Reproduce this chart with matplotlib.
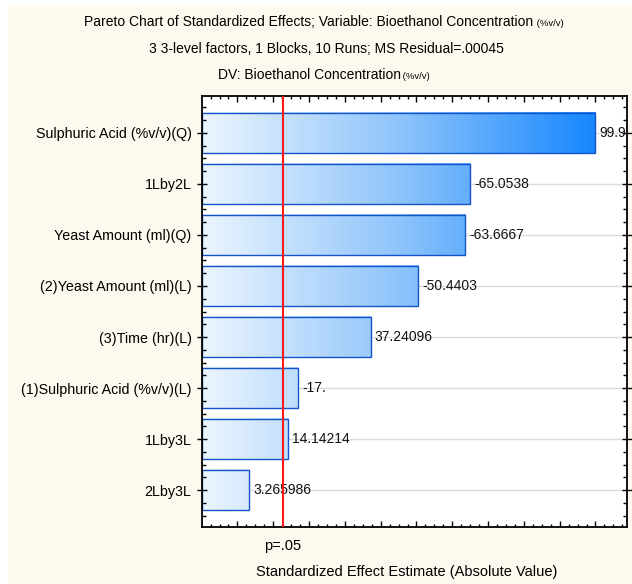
import numpy as np
import matplotlib
matplotlib.use("Agg")
import matplotlib.pyplot as plt
from matplotlib.colors import LinearSegmentedColormap, Normalize
from matplotlib.patches import Rectangle
from matplotlib.ticker import MultipleLocator, NullFormatter, FixedLocator
import matplotlib.transforms as mtransforms

plt.rcParams['font.family'] = ['Liberation Sans', 'DejaVu Sans']

# ---------------- data ----------------
factor_labels = [
    "Sulphuric Acid (%v/v)(Q)",
    "1Lby2L",
    "Yeast Amount (ml)(Q)",
    "(2)Yeast Amount (ml)(L)",
    "(3)Time (hr)(L)",
    "(1)Sulphuric Acid (%v/v)(L)",
    "1Lby3L",
    "2Lby3L",
]
effects = [99.98, -65.0538, -63.6667, -50.4403, 37.24096, -17.0, 14.14214, 3.265986]
effect_text = ["99.98", "-65.0538", "-63.6667", "-50.4403", "37.24096", "-17.", "14.14214", "3.265986"]
p_critical = 12.706
p_label = "p=.05"

title_main = "Pareto Chart of Standardized Effects; Variable: Bioethanol Concentration"
title_unit = " (%v/v)"
subtitle = "3 3-level factors, 1 Blocks, 10 Runs; MS Residual=.00045"
dv_main = "DV: Bioethanol Concentration"
xlabel = "Standardized Effect Estimate (Absolute Value)"

# ---------------- figure ----------------
W, H = 632, 584
fig = plt.figure(figsize=(W / 100, H / 100), dpi=100, facecolor="white")
fig.patches.append(Rectangle((8 / W, 0), 1 - 8 / W, 1 - 5 / H, transform=fig.transFigure,
                             facecolor="#fdf9ee", edgecolor="none", zorder=-10))

ax_l, ax_r, ax_t, ax_b = 202, 627, 96, 527
ax = fig.add_axes([ax_l / W, 1 - ax_b / H, (ax_r - ax_l) / W, (ax_b - ax_t) / H])
ax.set_facecolor("white")

xmin, xmax = -9.9, 108.8
cmap = LinearSegmentedColormap.from_list("blu", ["#ecf5fe", "#8ec4fb", "#1787fe"])
norm = Normalize(vmin=xmin, vmax=100)

ypos = np.arange(len(effects))
bar_h = 0.8
for y, val, txt in zip(ypos, effects, effect_text):
    end = abs(val)
    ax.plot([xmin, xmax], [y, y], color="#dcdcdc", lw=1.0, zorder=0.5)
    grad = np.linspace(xmin, end, 256).reshape(1, -1)
    ax.imshow(grad, extent=[xmin, end, y + bar_h / 2, y - bar_h / 2], cmap=cmap, norm=norm,
              aspect="auto", interpolation="bilinear", zorder=1)
    ax.add_patch(Rectangle((xmin, y - bar_h / 2), end - xmin, bar_h, facecolor="none",
                           edgecolor="#1454c8", lw=1.0, zorder=2))
    ax.text(end + 1.1, y, txt, va="center", ha="left", fontsize=10, color="#111111",
            clip_on=True, zorder=3)

ax.axvline(p_critical, color="#ff1a1a", lw=1.5, zorder=5)

ax.set_xlim(xmin, xmax)
ax.set_ylim(len(effects) - 1 + 0.725, -0.725)

ax.xaxis.set_major_locator(MultipleLocator(10))
ax.xaxis.set_minor_locator(MultipleLocator(2.5))
ax.xaxis.set_major_formatter(NullFormatter())
ax.tick_params(axis="x", which="both", direction="in", top=True, bottom=True)
ax.tick_params(axis="x", which="major", length=4, width=1)
ax.tick_params(axis="x", which="minor", length=2, width=1)

ax.set_yticks(ypos)
ax.set_yticklabels(factor_labels, fontsize=10.3)
ax.yaxis.set_minor_locator(FixedLocator(np.arange(-0.5, len(effects) - 0.5 + 0.01, 0.25)))
ax.tick_params(axis="y", which="major", direction="inout", length=7, width=1, left=True, right=True, pad=4)
ax.tick_params(axis="y", which="minor", direction="in", length=3, width=1, left=True, right=True)

for s in ax.spines.values():
    s.set_linewidth(1.3)
    s.set_color("black")

trans = mtransforms.blended_transform_factory(ax.transData, fig.transFigure)
ax.text(p_critical, 1 - 546 / H, p_label, transform=trans, ha="center", va="center", fontsize=10.5)

fig.text(407 / W, 1 - 572 / H, xlabel, ha="center", va="center", fontsize=10.5)

t1 = fig.text(309 / W, 1 - 22 / H, title_main, ha="center", va="center", fontsize=10)
ann1 = plt.annotate(title_unit, xy=(1, 0.05), xycoords=t1, va="bottom", ha="left", fontsize=6.8)
t2 = fig.text(326 / W, 1 - 49 / H, subtitle, ha="center", va="center", fontsize=10)
t3 = fig.text(309 / W, 1 - 75 / H, dv_main, ha="center", va="center", fontsize=10)
ann3 = plt.annotate(title_unit, xy=(1, 0.05), xycoords=t3, va="bottom", ha="left", fontsize=6.8)
ann1.set_annotation_clip(False)
ann3.set_annotation_clip(False)

fig.savefig("out.png", dpi=100, facecolor=fig.get_facecolor())
